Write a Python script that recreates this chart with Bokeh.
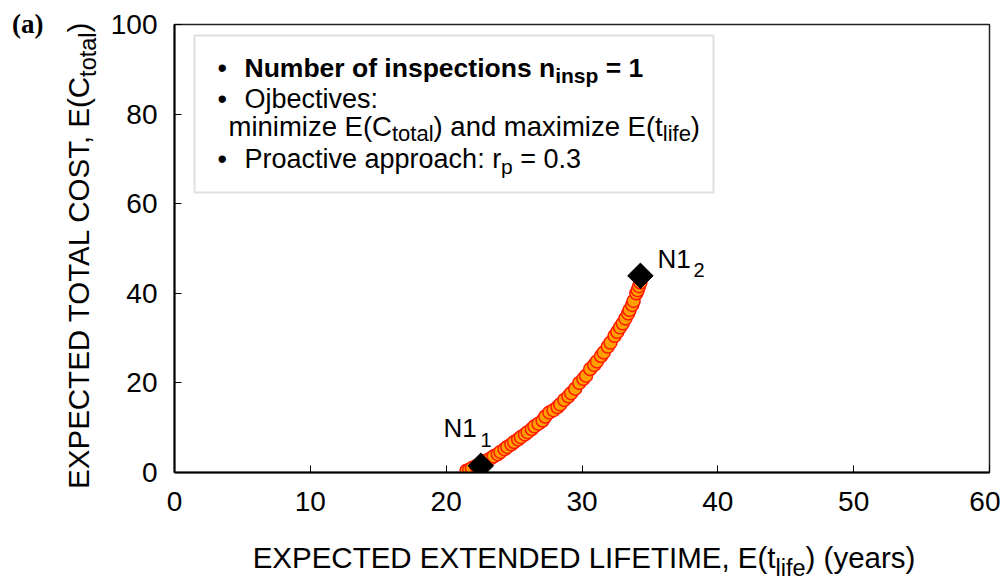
import math
from bokeh.plotting import figure
from bokeh.layouts import row, column
from bokeh.models import Range1d, FixedTicker, Label, BoxAnnotation, Div
from bokeh.embed import file_html
from bokeh.resources import INLINE

# ---------------- data ----------------
lifetime = [21.5, 21.7, 21.9, 22.2, 22.5, 22.8, 23.0, 23.3, 23.5, 23.8, 24.0, 24.3, 24.5, 24.8,
            25.0, 25.3, 25.5, 25.8, 26.0, 26.3, 26.5, 26.8, 27.1, 27.3, 27.6, 27.9, 28.2, 28.4,
            28.7, 29.0, 29.2, 29.5, 29.8, 30.1, 30.3, 30.6, 30.9, 31.1, 31.4, 31.6, 31.9, 32.1,
            32.4, 32.6, 32.8, 33.0, 33.2, 33.4, 33.5, 33.7, 33.8, 34.0, 34.1, 34.2, 34.3]
cost = [0.4, 0.6, 1.0, 1.4, 1.8, 2.3, 2.7, 3.2, 3.6, 4.1, 4.6, 5.2, 5.7, 6.3,
        6.8, 7.4, 7.9, 8.5, 9.0, 9.7, 10.3, 10.9, 11.6, 12.5, 13.4, 13.9, 14.6, 15.2,
        16.2, 17.0, 17.7, 18.7, 20.0, 20.9, 21.6, 23.1, 24.0, 24.8, 26.0, 26.8, 28.1, 29.0,
        30.5, 31.4, 32.4, 33.3, 34.4, 35.5, 36.3, 37.4, 38.3, 40.0, 40.7, 41.6, 42.4]
extreme_names = ["N1", "N1"]
extreme_subs = ["1", "2"]
extreme_lifetime = [22.55, 34.3]
extreme_cost = [1.5, 43.9]
x_ticks = [0, 10, 20, 30, 40, 50, 60]
y_ticks = [0, 20, 40, 60, 80, 100]
x_lim = (0, 60)
y_lim = (0, 100)
x_title = ("EXPECTED EXTENDED LIFETIME, E(t", "life", ") (years)")
y_title = ("EXPECTED TOTAL COST, E(C", "total", ")")
panel_tag = "(a)"

# ---------------- layout (page pixel coords) ----------------
W, H = 1000, 580
LEFT_W = 100
MAIN_H = 540
FL, FR, FT, FB = 174, 989, 24, 472

def dx(px):
    return x_lim[0] + (px - FL) / (FR - FL) * (x_lim[1] - x_lim[0])

def dy(py):
    return y_lim[0] + (FB - py) / (FB - FT) * (y_lim[1] - y_lim[0])

REG = {' ': 278, '\u00a0': 278, '(': 333, ')': 333, ',': 278, '.': 278, ':': 278, '=': 584,
       '\u2022': 350, 'C': 722, 'E': 667, 'N': 722, 'O': 778, 'P': 667,
       'a': 556, 'b': 556, 'c': 500, 'd': 556, 'e': 556, 'f': 278, 'h': 556, 'i': 222, 'j': 222,
       'l': 222, 'm': 833, 'n': 556, 'o': 556, 'p': 556, 'r': 333, 's': 500, 't': 278, 'u': 556,
       'v': 500, 'x': 500, 'y': 500, 'z': 500}
BOLD = {' ': 278, '\u00a0': 278, '=': 584, 'N': 722, 'a': 556, 'b': 611, 'c': 556, 'e': 556,
        'f': 333, 'i': 278, 'm': 889, 'n': 611, 'o': 611, 'p': 611, 'r': 389, 's': 556, 't': 333,
        'u': 611}
CAPS = {'A': 667, 'D': 722, 'I': 278, 'L': 556, 'M': 833, 'S': 667, 'T': 611, 'X': 667, 'Y': 667,
        'F': 611}
REG.update(CAPS)

def tw(s, size, bold=False):
    t = BOLD if bold else REG
    return sum(t.get(c, 556) for c in s) / 1000.0 * size

FONT = "Liberation Sans"
BASE_FIX = 0.36   # Bokeh places 'alphabetic' text a little low; lift by this fraction of size

def lab(fig, x_px, base_px, s, sz, bold=False):
    fig.add_layout(Label(x=dx(x_px), y=dy(base_px - BASE_FIX * sz), text=s, text_font=FONT,
                         text_font_size=f"{sz}px", text_font_style="bold" if bold else "normal",
                         text_align="left", text_baseline="alphabetic", text_color="black"))

def rich_h(fig, pieces, x, base):
    for s, sz, sh, b in pieces:
        lab(fig, x, base + sh, s, sz, b)
        x += tw(s, sz, b)

# ---------------- main chart ----------------
p = figure(width=W - LEFT_W, height=MAIN_H, output_backend="svg", toolbar_location=None,
           x_range=Range1d(*x_lim), y_range=Range1d(*y_lim), title=None,
           min_border_left=FL - LEFT_W, min_border_right=W - FR,
           min_border_top=FT, min_border_bottom=MAIN_H - FB)
p.background_fill_color = "white"
p.border_fill_color = "white"
p.outline_line_color = "#222222"
p.outline_line_width = 1.5
p.xgrid.visible = False
p.ygrid.visible = False

for ax, ticks in ((p.xaxis, x_ticks), (p.yaxis, y_ticks)):
    ax.ticker = FixedTicker(ticks=ticks)
    ax.axis_line_color = "black"
    ax.axis_line_width = 2
    ax.major_tick_in = 7
    ax.major_tick_out = 0
    ax.major_tick_line_color = "black"
    ax.minor_tick_line_color = None
    ax.major_label_text_font = FONT
    ax.major_label_text_font_size = "28px"
    ax.major_label_text_color = "black"
p.xaxis.major_label_standoff = 19
p.yaxis.major_label_standoff = 17

# Pareto points
p.scatter(lifetime, cost, marker="circle", size=13, fill_color="#FFA000",
          line_color="#FF1A00", line_width=1.5)
# extreme solutions
p.scatter(extreme_lifetime, extreme_cost, marker="square", angle=math.pi / 4, size=18,
          fill_color="black", line_color="black")

# labels of extremes
rich_h(p, [(extreme_names[0], 26, 0, False)], 443, 437)
rich_h(p, [(extreme_subs[0], 20, 0, False)], 480, 447)
rich_h(p, [(extreme_names[1], 26, 0, False)], 657, 268)
rich_h(p, [(extreme_subs[1], 20, 0, False)], 693, 277)

# info box
p.add_layout(BoxAnnotation(left=dx(194), right=dx(713), top=dy(35), bottom=dy(192),
                           fill_color="white", fill_alpha=1.0, line_color="#999999",
                           line_width=2))
NB = "\u00a0"
rich_h(p, [("\u2022", 27, 0, False)], 217, 77)
rich_h(p, [("Number of inspections n", 26.5, 0, True), ("insp", 21, 6, True),
           (NB + "= 1", 26.5, 0, True)], 244, 77)
rich_h(p, [("\u2022", 27, 0, False)], 217, 108)
rich_h(p, [("Ojbectives:", 27, 0, False)], 244, 108)
rich_h(p, [("minimize E(C", 27.5, 0, False), ("total", 22, 5, False),
           (") and maximize E(t", 27.5, 0, False), ("life", 22, 5, False),
           (")", 27.5, 0, False)], 228, 136)
rich_h(p, [("\u2022", 27, 0, False)], 217, 168)
rich_h(p, [("Proactive approach: r", 27, 0, False), ("p", 21, 6, False),
           (NB + "= 0.3", 27, 0, False)], 244, 168)

# ---------------- HTML side panels with the axis titles ----------------
def y_title_html():
    fs, ss = 29.5, 23.5
    total = tw(y_title[0], fs) + tw(y_title[1], ss) + tw(y_title[2], fs)
    start = 252 + total / 2
    base_in_box = 0.905 * fs - (1.117 * fs - fs) / 2
    tx = 89 - base_in_box
    tag_fs = 27
    tag_top = 34 - (0.891 * tag_fs - (1.107 * tag_fs - tag_fs) / 2)
    return (
        f'<div style="position:relative;width:{LEFT_W}px;height:{H}px;">'
        f'<div style="position:absolute;left:12px;top:{tag_top:.1f}px;font-family:\'Liberation Serif\';'
        f'font-weight:bold;font-size:{tag_fs}px;line-height:{tag_fs}px;white-space:nowrap;color:#000;">{panel_tag}</div>'
        f'<div style="position:absolute;left:0;top:0;transform-origin:0 0;'
        f'transform:translate({tx:.1f}px,{start:.1f}px) rotate(-90deg);font-family:\'Liberation Sans\';'
        f'font-size:{fs}px;line-height:{fs}px;white-space:nowrap;color:#000;">'
        f'{y_title[0]}<span style="font-size:{ss}px;line-height:0;vertical-align:-7px;">{y_title[1]}</span>{y_title[2]}</div>'
        f'</div>')

def x_title_html():
    fs, ss = 29.5, 23.5
    bh = H - MAIN_H
    base_in_box = 0.905 * fs - (1.117 * fs - fs) / 2
    top = (568 - MAIN_H) - base_in_box
    center = 584 - LEFT_W
    return (
        f'<div style="position:relative;width:{W - LEFT_W}px;height:{bh}px;">'
        f'<div style="position:absolute;left:0;top:{top:.1f}px;width:{2 * center}px;text-align:center;'
        f'font-family:\'Liberation Sans\';font-size:{fs}px;line-height:{fs}px;white-space:nowrap;color:#000;">'
        f'{x_title[0]}<span style="font-size:{ss}px;line-height:0;vertical-align:-8px;">{x_title[1]}</span>{x_title[2]}</div>'
        f'</div>')

left = Div(text=y_title_html(), width=LEFT_W, height=H, margin=0)
bottom = Div(text=x_title_html(), width=W - LEFT_W, height=H - MAIN_H, margin=0)

layout = row(left, column(p, bottom, spacing=0), spacing=0)
open("out.html", "w").write(file_html(layout, INLINE))
